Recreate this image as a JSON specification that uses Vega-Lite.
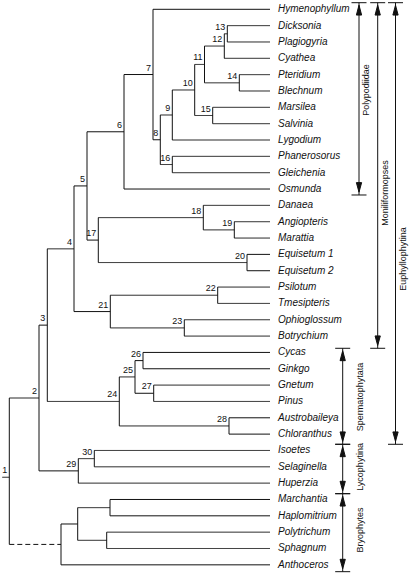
{
  "$schema": "https://vega.github.io/schema/vega-lite/v6.json",
  "width": 410,
  "height": 575,
  "padding": 0,
  "autosize": {"type": "none"},
  "background": "white",
  "config": {"view": {"stroke": null}, "font": "Liberation Sans"},
  "datasets": {
    "nodes": [
      {"taxon": "Hymenophyllum", "x": 270, "y": 0, "px": 153, "branch": "solid"},
      {"taxon": "Dicksonia", "x": 270, "y": 1, "px": 227.3, "branch": "solid"},
      {"taxon": "Plagiogyria", "x": 270, "y": 2, "px": 227.3, "branch": "solid"},
      {"taxon": "Cyathea", "x": 270, "y": 3, "px": 224.3, "branch": "solid"},
      {"taxon": "Pteridium", "x": 270, "y": 4, "px": 239.3, "branch": "solid"},
      {"taxon": "Blechnum", "x": 270, "y": 5, "px": 239.3, "branch": "solid"},
      {"taxon": "Marsilea", "x": 270, "y": 6, "px": 212.7, "branch": "solid"},
      {"taxon": "Salvinia", "x": 270, "y": 7, "px": 212.7, "branch": "solid"},
      {"taxon": "Lygodium", "x": 270, "y": 8, "px": 172.3, "branch": "solid"},
      {"taxon": "Phanerosorus", "x": 270, "y": 9, "px": 172.3, "branch": "solid"},
      {"taxon": "Gleichenia", "x": 270, "y": 10, "px": 172.3, "branch": "solid"},
      {"taxon": "Osmunda", "x": 270, "y": 11, "px": 124, "branch": "solid"},
      {"taxon": "Danaea", "x": 270, "y": 12, "px": 203.3, "branch": "solid"},
      {"taxon": "Angiopteris", "x": 270, "y": 13, "px": 234.3, "branch": "solid"},
      {"taxon": "Marattia", "x": 270, "y": 14, "px": 234.3, "branch": "solid"},
      {"taxon": "Equisetum 1", "x": 270, "y": 15, "px": 247, "branch": "solid"},
      {"taxon": "Equisetum 2", "x": 270, "y": 16, "px": 247, "branch": "solid"},
      {"taxon": "Psilotum", "x": 270, "y": 17, "px": 217.7, "branch": "solid"},
      {"taxon": "Tmesipteris", "x": 270, "y": 18, "px": 217.7, "branch": "solid"},
      {"taxon": "Ophioglossum", "x": 270, "y": 19, "px": 184.3, "branch": "solid"},
      {"taxon": "Botrychium", "x": 270, "y": 20, "px": 184.3, "branch": "solid"},
      {"taxon": "Cycas", "x": 270, "y": 21, "px": 143, "branch": "solid"},
      {"taxon": "Ginkgo", "x": 270, "y": 22, "px": 143, "branch": "solid"},
      {"taxon": "Gnetum", "x": 270, "y": 23, "px": 153.7, "branch": "solid"},
      {"taxon": "Pinus", "x": 270, "y": 24, "px": 153.7, "branch": "solid"},
      {"taxon": "Austrobaileya", "x": 270, "y": 25, "px": 229, "branch": "solid"},
      {"taxon": "Chloranthus", "x": 270, "y": 26, "px": 229, "branch": "solid"},
      {"taxon": "Isoetes", "x": 270, "y": 27, "px": 94.3, "branch": "solid"},
      {"taxon": "Selaginella", "x": 270, "y": 28, "px": 94.3, "branch": "solid"},
      {"taxon": "Huperzia", "x": 270, "y": 29, "px": 78.3, "branch": "solid"},
      {"taxon": "Marchantia", "x": 270, "y": 30, "px": 110, "branch": "solid"},
      {"taxon": "Haplomitrium", "x": 270, "y": 31, "px": 110, "branch": "solid"},
      {"taxon": "Polytrichum", "x": 270, "y": 32, "px": 106.7, "branch": "solid"},
      {"taxon": "Sphagnum", "x": 270, "y": 33, "px": 106.7, "branch": "solid"},
      {"taxon": "Anthoceros", "x": 270, "y": 34, "px": 61, "branch": "solid"},
      {"num": "13", "x": 227.3, "y": 1.5, "px": 224.3, "ymin": 1, "ymax": 2, "branch": "solid"},
      {"num": "12", "x": 224.3, "y": 2.25, "px": 204.5, "ymin": 1.5, "ymax": 3, "branch": "solid"},
      {"num": "14", "x": 239.3, "y": 4.5, "px": 204.5, "ymin": 4, "ymax": 5, "branch": "solid"},
      {"num": "11", "x": 204.5, "y": 3.375, "px": 194.7, "ymin": 2.25, "ymax": 4.5, "branch": "solid"},
      {"num": "15", "x": 212.7, "y": 6.5, "px": 194.7, "ymin": 6, "ymax": 7, "branch": "solid"},
      {"num": "10", "x": 194.7, "y": 4.9375, "px": 172.3, "ymin": 3.375, "ymax": 6.5, "branch": "solid"},
      {"num": "9", "x": 172.3, "y": 6.469, "px": 160.3, "ymin": 4.9375, "ymax": 8, "branch": "solid"},
      {"num": "16", "x": 172.3, "y": 9.5, "px": 160.3, "ymin": 9, "ymax": 10, "branch": "solid"},
      {"num": "8", "x": 160.3, "y": 7.984, "px": 153, "ymin": 6.469, "ymax": 9.5, "branch": "solid"},
      {"num": "7", "x": 153, "y": 3.992, "px": 124, "ymin": 0, "ymax": 7.984, "branch": "solid"},
      {"num": "6", "x": 124, "y": 7.496, "px": 87, "ymin": 3.992, "ymax": 11, "branch": "solid"},
      {"num": "19", "x": 234.3, "y": 13.5, "px": 203.3, "ymin": 13, "ymax": 14, "branch": "solid"},
      {"num": "18", "x": 203.3, "y": 12.75, "px": 98.3, "ymin": 12, "ymax": 13.5, "branch": "solid"},
      {"num": "20", "x": 247, "y": 15.5, "px": 98.3, "ymin": 15, "ymax": 16, "branch": "solid"},
      {"num": "17", "x": 98.3, "y": 14.125, "px": 87, "ymin": 12.75, "ymax": 15.5, "branch": "solid"},
      {"num": "5", "x": 87, "y": 10.81, "px": 74, "ymin": 7.496, "ymax": 14.125, "branch": "solid"},
      {"num": "22", "x": 217.7, "y": 17.5, "px": 110.3, "ymin": 17, "ymax": 18, "branch": "solid"},
      {"num": "23", "x": 184.3, "y": 19.5, "px": 110.3, "ymin": 19, "ymax": 20, "branch": "solid"},
      {"num": "21", "x": 110.3, "y": 18.5, "px": 74, "ymin": 17.5, "ymax": 19.5, "branch": "solid"},
      {"num": "4", "x": 74, "y": 14.66, "px": 47.3, "ymin": 10.81, "ymax": 18.5, "branch": "solid"},
      {"num": "26", "x": 143, "y": 21.5, "px": 135, "ymin": 21, "ymax": 22, "branch": "solid"},
      {"num": "27", "x": 153.7, "y": 23.5, "px": 135, "ymin": 23, "ymax": 24, "branch": "solid"},
      {"num": "25", "x": 135, "y": 22.5, "px": 119.3, "ymin": 21.5, "ymax": 23.5, "branch": "solid"},
      {"num": "28", "x": 229, "y": 25.5, "px": 119.3, "ymin": 25, "ymax": 26, "branch": "solid"},
      {"num": "24", "x": 119.3, "y": 24, "px": 47.3, "ymin": 22.5, "ymax": 25.5, "branch": "solid"},
      {"num": "3", "x": 47.3, "y": 19.33, "px": 39, "ymin": 14.66, "ymax": 24, "branch": "solid"},
      {"num": "30", "x": 94.3, "y": 27.5, "px": 78.3, "ymin": 27, "ymax": 28, "branch": "solid"},
      {"num": "29", "x": 78.3, "y": 28.25, "px": 39, "ymin": 27.5, "ymax": 29, "branch": "solid"},
      {"num": "2", "x": 39, "y": 23.79, "px": 9.3, "ymin": 19.33, "ymax": 28.25, "branch": "solid"},
      {"x": 110, "y": 30.5, "px": 77.7, "ymin": 30, "ymax": 31, "branch": "solid"},
      {"x": 106.7, "y": 32.5, "px": 77.7, "ymin": 32, "ymax": 33, "branch": "solid"},
      {"x": 77.7, "y": 31.5, "px": 61, "ymin": 30.5, "ymax": 32.5, "branch": "solid"},
      {"x": 61, "y": 32.75, "px": 9.3, "ymin": 31.5, "ymax": 34, "branch": "dashed"},
      {"num": "1", "x": 9.3, "y": 28.64, "px": 2.3, "ymin": 23.79, "ymax": 32.75, "branch": "solid"}
    ],
    "clades": [
      {"clade": "Polypodiidae", "x": 359, "top": -0.404, "bottom": 11.365, "lx": 366, "ly": 4.94},
      {"clade": "Moniliformopses", "x": 377.7, "top": -0.404, "bottom": 20.747, "lx": 385, "ly": 11.24},
      {"clade": "Euphyllophytina", "x": 395.5, "top": -0.404, "bottom": 26.622, "lx": 403, "ly": 15.28},
      {"clade": "Spermatophytata", "x": 342.7, "top": 20.747, "bottom": 26.622, "lx": 360, "ly": 23.73},
      {"clade": "Lycophytina", "x": 342.7, "top": 26.622, "bottom": 29.645, "lx": 360, "ly": 28.01},
      {"clade": "Bryophytes", "x": 342.7, "top": 29.645, "bottom": 34.419, "lx": 360, "ly": 31.87}
    ]
  },
  "layer": [
    {
      "data": {"name": "nodes"},
      "mark": {"type": "rule", "color": "#111", "strokeWidth": 1},
      "encoding": {
        "x": {"field": "px", "type": "quantitative", "scale": {"domain": [0, 410], "nice": false, "zero": false}, "axis": null},
        "x2": {"field": "x"},
        "y": {"field": "y", "type": "quantitative", "scale": {"domain": [-0.569, 34.622], "reverse": true, "nice": false, "zero": false}, "axis": null},
        "strokeDash": {"field": "branch", "type": "nominal", "scale": {"domain": ["solid", "dashed"], "range": [[1, 0], [5, 3]]}, "legend": null}
      }
    },
    {
      "data": {"name": "nodes"},
      "transform": [{"filter": "isValid(datum.ymin)"}],
      "mark": {"type": "rule", "color": "#111", "strokeWidth": 1},
      "encoding": {
        "x": {"field": "x", "type": "quantitative", "scale": {"domain": [0, 410], "nice": false, "zero": false}, "axis": null},
        "y": {"field": "ymin", "type": "quantitative", "scale": {"domain": [-0.569, 34.622], "reverse": true, "nice": false, "zero": false}, "axis": null},
        "y2": {"field": "ymax"}
      }
    },
    {
      "data": {"name": "nodes"},
      "transform": [{"filter": "isValid(datum.num)"}],
      "mark": {"type": "text", "align": "right", "baseline": "alphabetic", "dx": -2, "dy": -4, "fontSize": 9, "color": "#111"},
      "encoding": {
        "x": {"field": "x", "type": "quantitative", "scale": {"domain": [0, 410], "nice": false, "zero": false}, "axis": null},
        "y": {"field": "y", "type": "quantitative", "scale": {"domain": [-0.569, 34.622], "reverse": true, "nice": false, "zero": false}, "axis": null},
        "text": {"field": "num"}
      }
    },
    {
      "data": {"name": "nodes"},
      "transform": [{"filter": "isValid(datum.taxon)"}],
      "mark": {"type": "text", "align": "left", "baseline": "middle", "dx": 8, "fontSize": 10, "fontStyle": "italic", "color": "#111"},
      "encoding": {
        "x": {"field": "x", "type": "quantitative", "scale": {"domain": [0, 410], "nice": false, "zero": false}, "axis": null},
        "y": {"field": "y", "type": "quantitative", "scale": {"domain": [-0.569, 34.622], "reverse": true, "nice": false, "zero": false}, "axis": null},
        "text": {"field": "taxon"}
      }
    },
    {
      "data": {"name": "clades"},
      "mark": {"type": "rule", "color": "#111", "strokeWidth": 1},
      "encoding": {
        "x": {"field": "x", "type": "quantitative", "scale": {"domain": [0, 410], "nice": false, "zero": false}, "axis": null},
        "y": {"field": "top", "type": "quantitative", "scale": {"domain": [-0.569, 34.622], "reverse": true, "nice": false, "zero": false}, "axis": null},
        "y2": {"field": "bottom"}
      }
    },
    {
      "data": {"name": "clades"},
      "mark": {"type": "point", "shape": "M-1,0L1,0M0,0.33L0.35,1.65L-0.35,1.65Z", "size": 225, "filled": true, "fill": "#111", "stroke": "#111", "strokeWidth": 1, "opacity": 1},
      "encoding": {
        "x": {"field": "x", "type": "quantitative", "scale": {"domain": [0, 410], "nice": false, "zero": false}, "axis": null},
        "y": {"field": "top", "type": "quantitative", "scale": {"domain": [-0.569, 34.622], "reverse": true, "nice": false, "zero": false}, "axis": null}
      }
    },
    {
      "data": {"name": "clades"},
      "mark": {"type": "point", "shape": "M-1,0L1,0M0,-0.38L0.35,-1.65L-0.35,-1.65Z", "size": 225, "filled": true, "fill": "#111", "stroke": "#111", "strokeWidth": 1, "opacity": 1},
      "encoding": {
        "x": {"field": "x", "type": "quantitative", "scale": {"domain": [0, 410], "nice": false, "zero": false}, "axis": null},
        "y": {"field": "bottom", "type": "quantitative", "scale": {"domain": [-0.569, 34.622], "reverse": true, "nice": false, "zero": false}, "axis": null}
      }
    },
    {
      "data": {"name": "clades"},
      "mark": {"type": "text", "angle": 270, "align": "center", "baseline": "middle", "fontSize": 9, "color": "#111"},
      "encoding": {
        "x": {"field": "lx", "type": "quantitative", "scale": {"domain": [0, 410], "nice": false, "zero": false}, "axis": null},
        "y": {"field": "ly", "type": "quantitative", "scale": {"domain": [-0.569, 34.622], "reverse": true, "nice": false, "zero": false}, "axis": null},
        "text": {"field": "clade"}
      }
    }
  ]
}
